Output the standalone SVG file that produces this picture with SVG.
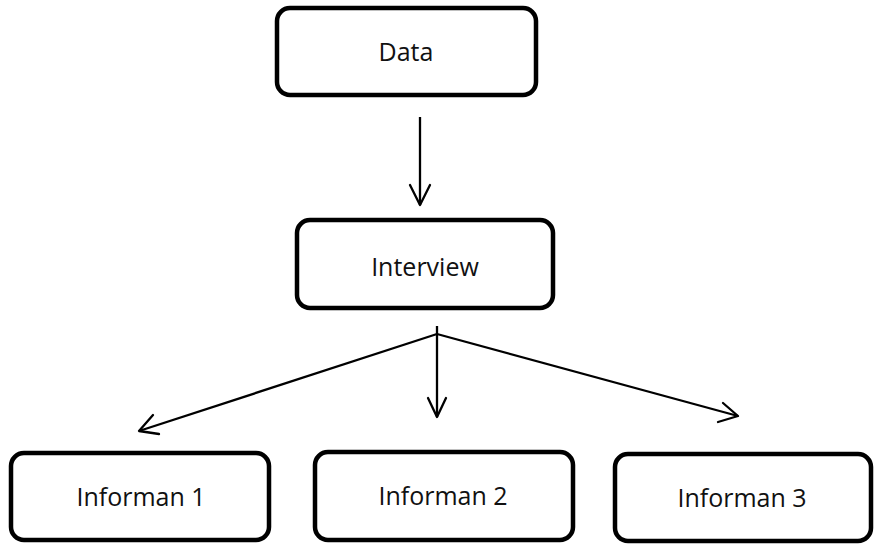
<svg xmlns="http://www.w3.org/2000/svg" width="875" height="551" viewBox="0 0 875 551">
  <defs>
    <style>
      .box { fill: #ffffff; stroke: #000000; stroke-width: 4.5; }
      .label { font-family: "Open Sans", "Noto Sans", sans-serif; font-size: 25px; fill: #111111; text-anchor: middle; dominant-baseline: central; }
      .link { fill: none; stroke: #000000; stroke-width: 2.3; }
      .head { fill: none; stroke: #000000; stroke-width: 2.3; stroke-linecap: round; stroke-linejoin: round; }
    </style>
  </defs>
  <rect width="875" height="551" fill="#ffffff"/>

  <g id="connectors">
    <!-- Data to Interview -->
    <line class="link" x1="420" y1="117" x2="420" y2="205"/>
    <polyline class="head" points="410,185 420,205 430,185"/>
    <!-- Interview fan-out -->
    <line class="link" x1="437" y1="326" x2="437" y2="417"/>
    <polyline class="head" points="428,398 437,417 446,398"/>
    <line class="link" x1="437" y1="334" x2="139" y2="431"/>
    <polyline class="head" points="153,415 139,431 159,434"/>
    <line class="link" x1="437" y1="334" x2="738" y2="416"/>
    <polyline class="head" points="718,422 738,416 723,403"/>
  </g>

  <g id="node-data">
    <rect class="box" x="277" y="8" width="259" height="87" rx="13"/>
    <text class="label" x="406" y="51">Data</text>
  </g>
  <g id="node-interview">
    <rect class="box" x="297" y="220" width="256" height="88" rx="13"/>
    <text class="label" x="425" y="266">Interview</text>
  </g>
  <g id="node-informan-1">
    <rect class="box" x="11" y="453" width="258" height="87" rx="13"/>
    <text class="label" x="141" y="496">Informan 1</text>
  </g>
  <g id="node-informan-2">
    <rect class="box" x="315" y="452" width="258" height="88" rx="13"/>
    <text class="label" x="443" y="495">Informan 2</text>
  </g>
  <g id="node-informan-3">
    <rect class="box" x="615" y="454" width="256" height="87" rx="13"/>
    <text class="label" x="742" y="497">Informan 3</text>
  </g>
</svg>
